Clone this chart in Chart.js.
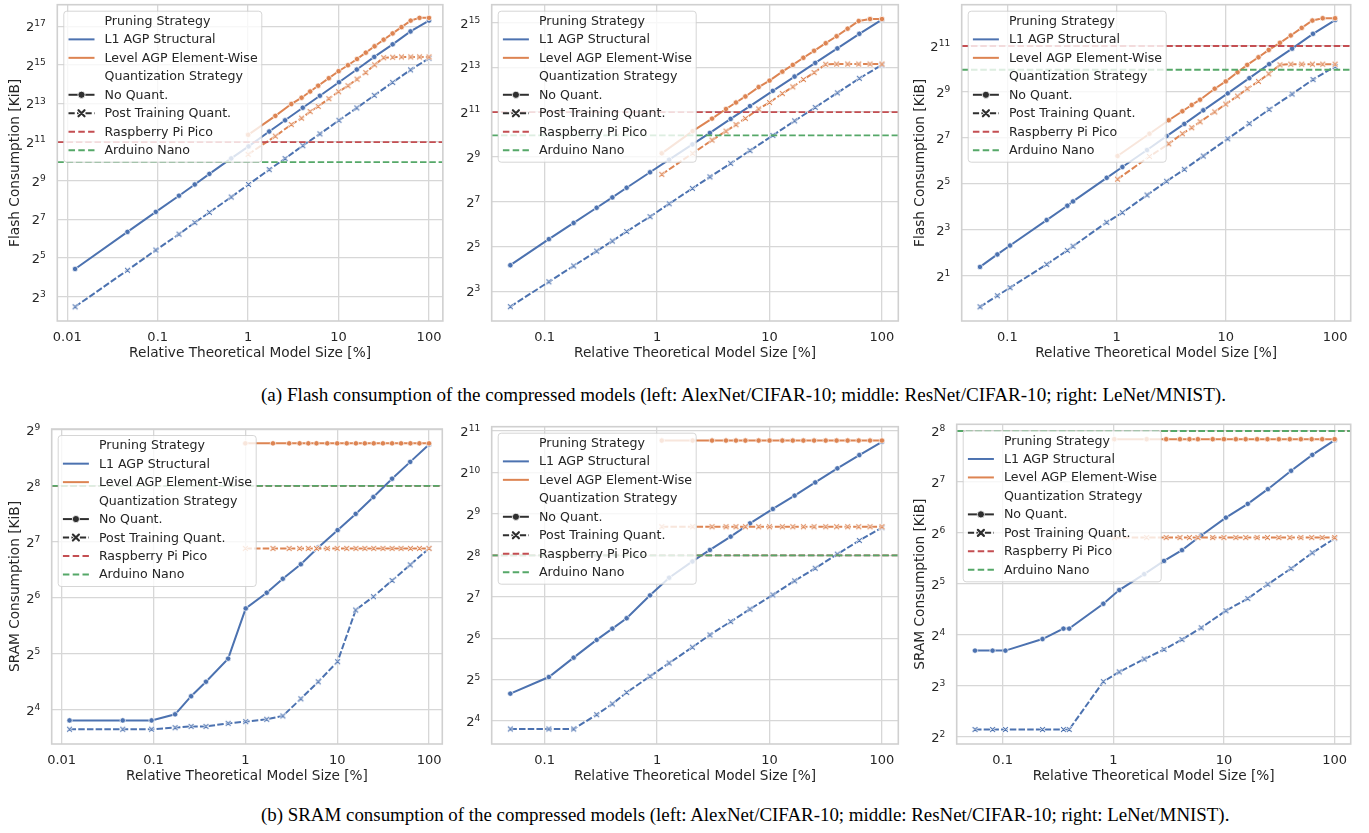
<!DOCTYPE html>
<html><head><meta charset="utf-8">
<script src="https://cdn.jsdelivr.net/npm/chart.js@4.4.1/dist/chart.umd.min.js"></script>
<style>
html,body{margin:0;padding:0;background:#fff;}
#fig{position:relative;width:1369px;height:833px;overflow:hidden;background:#fff;}
.cv{position:absolute;}
.cv canvas{display:block;}
.cap{position:absolute;left:261px;font-family:"Liberation Serif","DejaVu Serif",serif;font-size:19.1px;line-height:22px;color:#000;white-space:nowrap;}
</style></head><body>
<div id="fig">
<div class="cv" style="left:0px;top:0px"><canvas id="c1" width="450" height="370"></canvas></div>
<div class="cv" style="left:450px;top:0px"><canvas id="c2" width="455" height="370"></canvas></div>
<div class="cv" style="left:905px;top:0px"><canvas id="c3" width="464" height="370"></canvas></div>
<div class="cv" style="left:0px;top:415px"><canvas id="c4" width="450" height="378"></canvas></div>
<div class="cv" style="left:450px;top:415px"><canvas id="c5" width="455" height="378"></canvas></div>
<div class="cv" style="left:905px;top:415px"><canvas id="c6" width="464" height="378"></canvas></div>
<div class="cap" style="top:384px">(a) Flash consumption of the compressed models (left: AlexNet/CIFAR-10; middle: ResNet/CIFAR-10; right: LeNet/MNIST).</div>
<div class="cap" style="top:804px;font-size:18.9px">(b) SRAM consumption of the compressed models (left: AlexNet/CIFAR-10; middle: ResNet/CIFAR-10; right: LeNet/MNIST).</div>
</div>
<script>
// ---------- x values: relative theoretical model size [%] ----------
const alexnetL1Sizes    = [0.0122, 0.0463, 0.0954, 0.172, 0.257, 0.373, 0.65, 1.01, 1.71, 2.56, 4.02, 6.22, 10.1, 15.9, 24.8, 39.6, 62.4, 100];
const alexnetLevelSizes = [1.0, 2.0, 3.0, 3.9, 4.85, 5.95, 7.8, 10, 12.7, 16, 20, 25, 31.5, 39.6, 49.6, 62.7, 78.5, 100];
const resnetL1Sizes     = [0.0495, 0.109, 0.181, 0.29, 0.4, 0.536, 0.865, 1.28, 2.06, 2.95, 4.51, 6.7, 10.7, 16.7, 25.5, 40.1, 62.9, 100];
const resnetLevelSizes  = [1.1, 2.07, 3.08, 4.1, 5.03, 6.1, 8.0, 10, 13, 16.1, 20, 24.9, 31.6, 39.5, 49.5, 62.1, 78.3, 100];
const lenetL1Sizes      = [0.0562, 0.081, 0.1058, 0.229, 0.354, 0.399, 0.812, 1.13, 1.9, 2.87, 4.17, 6.22, 10.4, 16.4, 24.9, 40.4, 62.8, 100];
const lenetLevelSizes   = [1.02, 2.0, 3.0, 4.0, 4.87, 5.81, 7.91, 9.98, 12.8, 15.7, 19.9, 24.7, 31.3, 39.3, 49.5, 62, 77.1, 100];

// ---------- Flash consumption [KiB] ----------
const alexFlashL1NoQuant    = [21.7, 82, 168, 300, 449, 657, 1144, 1757, 2998, 4482, 7032, 10809, 17560, 27650, 43500, 68300, 108500, 160000];
const alexFlashL1Ptq        = [5.6, 20.7, 42.8, 75.6, 114.5, 165, 286, 449, 765, 1136, 1807, 2759, 4482, 6985, 10960, 17430, 27360, 41450];
const alexFlashLevelNoQuant = [2665, 5255, 8030, 10080, 12590, 15490, 20300, 26060, 32290, 40350, 50700, 63700, 80700, 101000, 126600, 160000, 176400, 176400];
const alexFlashLevelPtq     = [1323, 2540, 3850, 4840, 6120, 7380, 9740, 12500, 15500, 19600, 24800, 32770, 42300, 43000, 43500, 43500, 43500, 43500];

const resFlashL1NoQuant    = [17.9, 40.1, 66.2, 106, 146, 197, 318, 470, 754, 1077, 1660, 2470, 3960, 6160, 9400, 14750, 23170, 35900];
const resFlashL1Ptq        = [4.96, 10.7, 17.5, 27.7, 37.8, 50.9, 80.4, 120, 193, 276, 419, 622, 996, 1563, 2370, 3720, 5830, 8840];
const resFlashLevelNoQuant = [572, 1136, 1675, 2257, 2760, 3327, 4450, 5440, 7180, 8840, 11030, 13680, 17310, 21460, 27160, 34400, 36600, 36600];
const resFlashLevelPtq     = [298, 572, 861, 1136, 1390, 1687, 2257, 2760, 3640, 4480, 5630, 6980, 9020, 9090, 9090, 9090, 9090, 9090];

const leFlashL1NoQuant    = [2.60, 3.79, 4.96, 10.7, 16.5, 18.8, 38.3, 53.1, 88.6, 135, 195, 294, 491, 776, 1184, 1891, 2960, 4480];
const leFlashL1Ptq        = [0.78, 1.09, 1.39, 2.81, 4.28, 4.86, 9.99, 13.4, 22.8, 34.5, 49.5, 74.0, 124.5, 197, 302, 481, 744, 1105];
const leFlashLevelNoQuant = [74, 145, 218, 286, 345, 405, 564, 704, 929, 1160, 1458, 1820, 2257, 2817, 3540, 4420, 4740, 4740];
const leFlashLevelPtq     = [36.8, 73, 107, 145, 174, 208, 280, 355, 452, 564, 704, 885, 1160, 1184, 1184, 1184, 1184, 1184];

// ---------- SRAM consumption [KiB] ----------
const alexSramL1NoQuant    = [14.0, 14.0, 14.0, 15.1, 18.9, 22.6, 30.1, 56.1, 68.1, 81.0, 97.0, 119.4, 148, 181, 223, 280, 345, 428];
const alexSramL1Ptq        = [12.55, 12.55, 12.55, 12.8, 13.0, 13.0, 13.5, 13.8, 14.2, 14.8, 18.3, 22.6, 29.0, 55.0, 64.9, 79.3, 96.3, 118];
const alexSramLevelNoQuant = [434, 434, 434, 434, 434, 434, 434, 434, 434, 434, 434, 434, 434, 434, 434, 434, 434, 434];
const alexSramLevelPtq     = [118, 118, 118, 118, 118, 118, 118, 118, 118, 118, 118, 118, 118, 118, 118, 118, 118, 118];

const resSramL1NoQuant    = [25.3, 33.4, 46.2, 62.2, 75.1, 89.3, 131, 176, 231, 280, 350, 437, 556, 695, 867, 1097, 1370, 1710];
const resSramL1Ptq        = [14.0, 14.0, 14.0, 17.8, 21.3, 25.8, 33.8, 42.2, 55.0, 67.6, 84.4, 104, 132, 167, 206, 261, 328, 407];
const resSramLevelNoQuant = [1746, 1746, 1746, 1746, 1746, 1746, 1746, 1746, 1746, 1746, 1746, 1746, 1746, 1746, 1746, 1746, 1746, 1746];
const resSramLevelPtq     = [413, 413, 413, 413, 413, 413, 413, 413, 413, 413, 413, 413, 413, 413, 413, 413, 413, 413];

const leSramL1NoQuant    = [12.9, 12.9, 12.9, 15.1, 17.4, 17.4, 24.4, 29.4, 36.5, 43.7, 50.6, 61.7, 78.8, 95.0, 116, 149, 185, 226];
const leSramL1Ptq        = [4.41, 4.41, 4.41, 4.41, 4.41, 4.41, 8.46, 9.65, 11.5, 13.1, 15.0, 17.6, 22.2, 26.2, 31.8, 39.4, 48.8, 59.3];
const leSramLevelNoQuant = [229, 229, 229, 229, 229, 229, 229, 229, 229, 229, 229, 229, 229, 229, 229, 229, 229, 229];
const leSramLevelPtq     = [60.1, 60.1, 60.1, 60.1, 60.1, 60.1, 60.1, 60.1, 60.1, 60.1, 60.1, 60.1, 60.1, 60.1, 60.1, 60.1, 60.1, 60.1];

// ---------- device limits [KiB] ----------
const picoFlashKiB = 2048, nanoFlashKiB = 1000;
const picoSramKiB = 256, nanoSramKiB = 256;

// ---------- tick labels ----------
const xTickValues = [0.01, 0.1, 1, 10, 100];
const xTickLabels = ['0.01', '0.1', '1', '10', '100'];
const alexFlashTickExps = [3, 5, 7, 9, 11, 13, 15, 17];
const resFlashTickExps  = [3, 5, 7, 9, 11, 13, 15];
const leFlashTickExps   = [1, 3, 5, 7, 9, 11];
const alexSramTickExps  = [4, 5, 6, 7, 8, 9];
const resSramTickExps   = [4, 5, 6, 7, 8, 9, 10, 11];
const leSramTickExps    = [2, 3, 4, 5, 6, 7, 8];

const legendLabels = ['Pruning Strategy', 'L1 AGP Structural', 'Level AGP Element-Wise', 'Quantization Strategy',
  'No Quant.', 'Post Training Quant.', 'Raspberry Pi Pico', 'Arduino Nano'];

// ---------- styling ----------
const BLUE = '#4c72b0', ORANGE = '#dd8452', RED = '#c44e52', GREEN = '#55a868', DARK = '#2f2f2f', TXT = '#262626';
const FONT = 'DejaVu Sans';
const GRID = '#d7d7d7';
const TICK_SIZE = 13, LEGEND_SIZE = 12.6, TITLE_SIZE = 13.7, EXP_SIZE = 9.1;

function xMarker(color) {
  const c = document.createElement('canvas'); c.width = 9; c.height = 9;
  const g = c.getContext('2d');
  const path = () => { g.beginPath(); g.moveTo(2.4, 2.4); g.lineTo(6.6, 6.6); g.moveTo(6.6, 2.4); g.lineTo(2.4, 6.6); };
  g.lineCap = 'round';
  g.strokeStyle = 'rgba(255,255,255,0.95)'; g.lineWidth = 2.6; path(); g.stroke();
  g.strokeStyle = color; g.lineWidth = 1.1; path(); g.stroke();
  return c;
}
const markerCache = {};
function getX(color) { return markerCache[color] || (markerCache[color] = xMarker(color)); }

function pts(xs, ys) { return xs.map((x, i) => ({ x: x, y: ys[i] })); }
function lineDS(data, color, ptq, order) {
  return {
    data, order, borderColor: color, backgroundColor: color, borderWidth: 2,
    borderDash: ptq ? [6.5, 2.2] : [], tension: 0,
    pointStyle: ptq ? getX(color) : 'circle', pointRadius: ptq ? 3 : 2.7,
    pointBackgroundColor: color, pointBorderColor: '#ffffff', pointBorderWidth: ptq ? 0 : 0.7
  };
}
function hline(v, xMin, xMax, color, order) {
  return { data: [{ x: xMin, y: v }, { x: xMax, y: v }], order, borderColor: color, borderWidth: 1.8,
    borderDash: [6.5, 2.8], pointRadius: 0, tension: 0 };
}

function drawLegend(ctx, a) {
  const L = a.left + 6.5, T = a.top + 6.5, W = 198, H = 151, r = 3;
  ctx.save();
  ctx.beginPath();
  ctx.moveTo(L + r, T); ctx.lineTo(L + W - r, T); ctx.arcTo(L + W, T, L + W, T + r, r);
  ctx.lineTo(L + W, T + H - r); ctx.arcTo(L + W, T + H, L + W - r, T + H, r);
  ctx.lineTo(L + r, T + H); ctx.arcTo(L, T + H, L, T + H - r, r);
  ctx.lineTo(L, T + r); ctx.arcTo(L, T, L + r, T, r); ctx.closePath();
  ctx.fillStyle = 'rgba(255,255,255,0.8)'; ctx.fill();
  ctx.strokeStyle = 'rgba(204,204,204,0.8)'; ctx.lineWidth = 1; ctx.stroke();
  const hx0 = L + 4.7, hx1 = L + 30.7, tx = L + 40.7;
  const handles = [null, [BLUE, []], [ORANGE, []], null, [DARK, [], 'o'], [DARK, [6.2, 2.3], 'x'], [RED, [6.5, 3.3]], [GREEN, [6.5, 3.3]]];
  ctx.font = LEGEND_SIZE + 'px "' + FONT + '"';
  ctx.textBaseline = 'alphabetic'; ctx.textAlign = 'left';
  legendLabels.forEach((lab, i) => {
    const base = T + 13.7 + i * 18.47;
    const hy = base - 4;
    const h = handles[i];
    if (h) {
      ctx.strokeStyle = h[0]; ctx.lineWidth = 2; ctx.setLineDash(h[1]);
      ctx.beginPath(); ctx.moveTo(hx0, hy); ctx.lineTo(hx1, hy); ctx.stroke();
      ctx.setLineDash([]);
      const cx = (hx0 + hx1) / 2;
      if (h[2] === 'o') {
        ctx.beginPath(); ctx.arc(cx, hy, 3.6, 0, Math.PI * 2);
        ctx.fillStyle = h[0]; ctx.fill(); ctx.strokeStyle = '#fff'; ctx.lineWidth = 0.8; ctx.stroke();
      } else if (h[2] === 'x') {
        ctx.lineCap = 'round';
        ctx.strokeStyle = '#fff'; ctx.lineWidth = 3.6;
        ctx.beginPath(); ctx.moveTo(cx - 3, hy - 3); ctx.lineTo(cx + 3, hy + 3); ctx.moveTo(cx + 3, hy - 3); ctx.lineTo(cx - 3, hy + 3); ctx.stroke();
        ctx.strokeStyle = h[0]; ctx.lineWidth = 2.2;
        ctx.beginPath(); ctx.moveTo(cx - 3, hy - 3); ctx.lineTo(cx + 3, hy + 3); ctx.moveTo(cx + 3, hy - 3); ctx.lineTo(cx - 3, hy + 3); ctx.stroke();
        ctx.lineCap = 'butt';
      }
    }
    ctx.fillStyle = TXT;
    ctx.fillText(lab, tx, base);
  });
  ctx.restore();
}

const decor = {
  id: 'decor',
  afterDatasetsDraw(chart) {
    drawLegend(chart.ctx, chart.chartArea);
  },
  afterDraw(chart, args, opts) {
    const ctx = chart.ctx, a = chart.chartArea, ys = chart.scales.y;
    ctx.save();
    ctx.strokeStyle = '#d0d0d0'; ctx.lineWidth = 1.6;
    ctx.strokeRect(a.left, a.top, a.right - a.left, a.bottom - a.top);
    ctx.fillStyle = TXT; ctx.textBaseline = 'alphabetic'; ctx.textAlign = 'left';
    const right = a.left - 11.5;
    (opts.exps || []).forEach(e => {
      const y = ys.getPixelForValue(Math.pow(2, e));
      if (y < a.top - 6 || y > a.bottom + 6) return;
      const ex = String(e);
      ctx.font = EXP_SIZE + 'px "' + FONT + '"'; const we = ctx.measureText(ex).width;
      ctx.font = TICK_SIZE + 'px "' + FONT + '"'; const wb = ctx.measureText('2').width;
      ctx.fillText('2', right - we - wb, y + 4.9);
      ctx.font = EXP_SIZE + 'px "' + FONT + '"';
      ctx.fillText(ex, right - we, y + 0.3);
    });
    ctx.restore();
  }
};

const panels = [
  { id: 'c1', cl: 0, ct: 0, cw: 450, ch: 370, left: 57.3, top: 2.7, right: 445.7, bottom: 321,
    xMin: 0.00776, xMax: 142.2, yMin: 3.36, yMax: 282900, exps: alexFlashTickExps, yTitle: 'Flash Consumption [KiB]',
    l1x: alexnetL1Sizes, lvx: alexnetLevelSizes, s: [alexFlashL1NoQuant, alexFlashL1Ptq, alexFlashLevelNoQuant, alexFlashLevelPtq], pico: picoFlashKiB, nano: nanoFlashKiB },
  { id: 'c2', cl: 450, ct: 0, cw: 455, ch: 370, left: 491.7, top: 2.7, right: 898.3, bottom: 321,
    xMin: 0.0338, xMax: 139.7, yMin: 3.178, yMax: 57050, exps: resFlashTickExps, yTitle: null,
    l1x: resnetL1Sizes, lvx: resnetLevelSizes, s: [resFlashL1NoQuant, resFlashL1Ptq, resFlashLevelNoQuant, resFlashLevelPtq], pico: picoFlashKiB, nano: nanoFlashKiB },
  { id: 'c3', cl: 905, ct: 0, cw: 464, ch: 370, left: 961.7, top: 2.7, right: 1350.7, bottom: 321,
    xMin: 0.0382, xMax: 139, yMin: 0.508, yMax: 7131, exps: leFlashTickExps, yTitle: 'Flash Consumption [KiB]',
    l1x: lenetL1Sizes, lvx: lenetLevelSizes, s: [leFlashL1NoQuant, leFlashL1Ptq, leFlashLevelNoQuant, leFlashLevelPtq], pico: picoFlashKiB, nano: nanoFlashKiB },
  { id: 'c4', cl: 0, ct: 415, cw: 450, ch: 378, left: 51.7, top: 429, right: 445.7, bottom: 744,
    xMin: 0.0078, xMax: 139.4, yMin: 10.45, yMax: 518.5, exps: alexSramTickExps, yTitle: 'SRAM Consumption [KiB]',
    l1x: alexnetL1Sizes, lvx: alexnetLevelSizes, s: [alexSramL1NoQuant, alexSramL1Ptq, alexSramLevelNoQuant, alexSramLevelPtq], pico: picoSramKiB, nano: nanoSramKiB },
  { id: 'c5', cl: 450, ct: 415, cw: 455, ch: 378, left: 491.7, top: 426.7, right: 898.3, bottom: 744,
    xMin: 0.0338, xMax: 139.7, yMin: 10.89, yMax: 2202, exps: resSramTickExps, yTitle: null,
    l1x: resnetL1Sizes, lvx: resnetLevelSizes, s: [resSramL1NoQuant, resSramL1Ptq, resSramLevelNoQuant, resSramLevelPtq], pico: picoSramKiB, nano: nanoSramKiB },
  { id: 'c6', cl: 905, ct: 415, cw: 464, ch: 378, left: 956.7, top: 424.3, right: 1350.7, bottom: 744,
    xMin: 0.0384, xMax: 139.6, yMin: 3.62, yMax: 280.4, exps: leSramTickExps, yTitle: 'SRAM Consumption [KiB]',
    l1x: lenetL1Sizes, lvx: lenetLevelSizes, s: [leSramL1NoQuant, leSramL1Ptq, leSramLevelNoQuant, leSramLevelPtq], pico: picoSramKiB, nano: nanoSramKiB }
];

panels.forEach(p => {
  const yw = p.left - p.cl, padR = p.cl + p.cw - p.right, padT = p.top - p.ct, xh = p.ct + p.ch - p.bottom;
  const datasets = [
    hline(p.nano, p.xMin, p.xMax, GREEN, 0),
    hline(p.pico, p.xMin, p.xMax, RED, 1),
    lineDS(pts(p.lvx, p.s[3]), ORANGE, true, 2),
    lineDS(pts(p.lvx, p.s[2]), ORANGE, false, 3),
    lineDS(pts(p.l1x, p.s[1]), BLUE, true, 4),
    lineDS(pts(p.l1x, p.s[0]), BLUE, false, 5)
  ];
  new Chart(document.getElementById(p.id), {
    type: 'line',
    data: { datasets },
    plugins: [decor],
    options: {
      responsive: false, animation: false, devicePixelRatio: 1, events: [],
      layout: { padding: { left: 0, top: padT, right: padR, bottom: 0 } },
      plugins: { legend: { display: false }, tooltip: { enabled: false }, decor: { exps: p.exps } },
      scales: {
        x: {
          type: 'logarithmic', min: p.xMin, max: p.xMax, bounds: 'data',
          afterBuildTicks: s => { s.ticks = xTickValues.filter(v => v >= p.xMin && v <= p.xMax).map(v => ({ value: v })); },
          afterFit: s => { s.height = xh; },
          grid: { color: GRID, lineWidth: 1.3, drawTicks: false },
          border: { display: false },
          ticks: { autoSkip: false, maxRotation: 0, padding: 8.4, color: TXT, font: { family: FONT, size: TICK_SIZE },
            callback: (v) => { const i = xTickValues.indexOf(v); return i >= 0 ? xTickLabels[i] : ''; } },
          title: { display: true, text: 'Relative Theoretical Model Size [%]', color: TXT,
            font: { family: FONT, size: TITLE_SIZE }, padding: { top: 0, bottom: 8.2 } }
        },
        y: {
          type: 'logarithmic', min: p.yMin, max: p.yMax, bounds: 'data',
          afterBuildTicks: s => { s.ticks = p.exps.map(e => ({ value: Math.pow(2, e) })); },
          afterFit: s => { s.width = yw; },
          grid: { color: GRID, lineWidth: 1.3, drawTicks: false },
          border: { display: false },
          ticks: { display: false },
          title: p.yTitle ? { display: true, text: p.yTitle, color: TXT, font: { family: FONT, size: TITLE_SIZE }, padding: { top: 6.8, bottom: 0 } } : { display: false }
        }
      }
    }
  });
});
</script>
</body></html>
